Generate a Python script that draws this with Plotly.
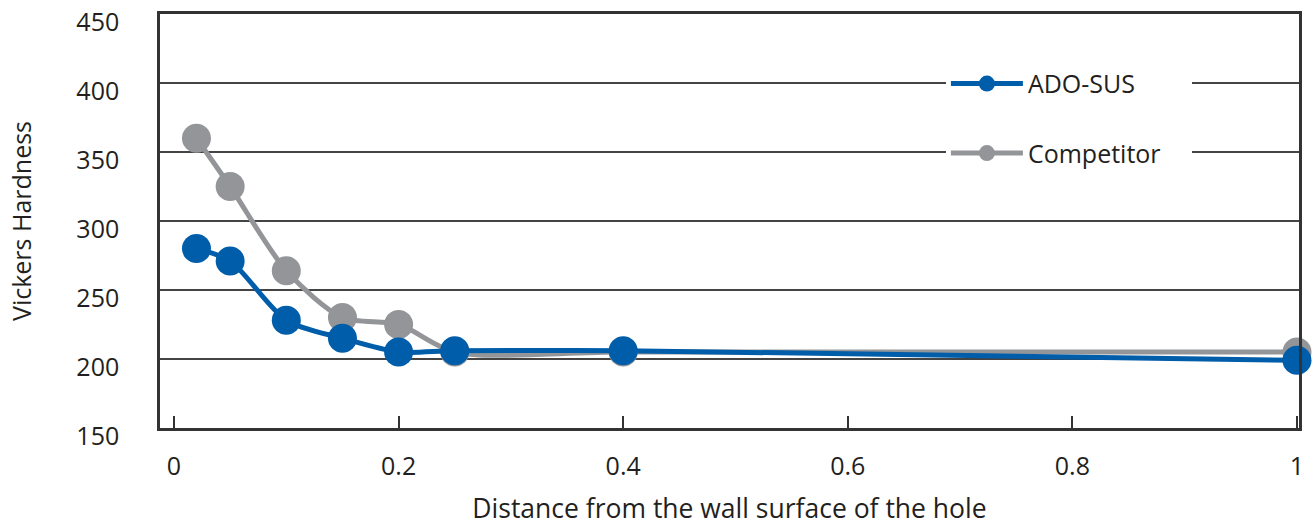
import plotly.graph_objects as go

distance = [0.02, 0.05, 0.10, 0.15, 0.20, 0.25, 0.40, 1.00]
ado_sus = [280, 271, 228, 215, 205, 206, 206, 199]
competitor = [360, 325, 264, 230, 225, 205, 205, 205]

y_ticks = [150, 200, 250, 300, 350, 400, 450]
x_ticks = [0, 0.2, 0.4, 0.6, 0.8, 1]
x_tick_labels = ["0", "0.2", "0.4", "0.6", "0.8", "1"]

BLUE = "#005DAA"
GRAY = "#939598"
DARK = "#333333"
TEXT = "#231F20"
FONT = "Open Sans"
PAD = "\u00a0\u00a0\u00a0\u00a0"

fig = go.Figure()
fig.add_trace(go.Scatter(
    x=distance, y=competitor, name="Competitor" + PAD, mode="lines+markers",
    line=dict(color=GRAY, width=5, shape="spline", smoothing=0.8),
    marker=dict(color=GRAY, size=29),
    cliponaxis=False, legendgroup="b", legendrank=2,
))
fig.add_trace(go.Scatter(
    x=distance, y=ado_sus, name="ADO-SUS" + PAD, mode="lines+markers",
    line=dict(color=BLUE, width=5, shape="spline", smoothing=0.8),
    marker=dict(color=BLUE, size=29),
    cliponaxis=False, legendgroup="a", legendrank=1,
))

fig.update_layout(
    width=1314, height=526,
    margin=dict(l=160, r=15, t=14, b=98),
    paper_bgcolor="white", plot_bgcolor="white",
    font=dict(family=FONT, size=25, color=TEXT),
    showlegend=True,
    legend=dict(
        x=0.69, y=0.887, xanchor="left", yanchor="top",
        bgcolor="white", borderwidth=0,
        traceorder="grouped", tracegroupgap=34,
        itemwidth=72,
        font=dict(family=FONT, size=25, color=TEXT),
    ),
)
fig.update_xaxes(
    range=[-0.01247, 1.0018],
    tickvals=x_ticks, ticktext=x_tick_labels,
    ticks="inside", ticklen=12, tickwidth=1.5, tickcolor=DARK,
    showline=True, linecolor=DARK, linewidth=2.5, mirror=True,
    showgrid=False, zeroline=False, automargin=False,
    ticklabelstandoff=14,
    title=dict(text="Distance from the wall surface of the hole", standoff=22,
               font=dict(size=26.5)),
    tickfont=dict(size=25),
)
fig.update_yaxes(
    range=[149.9, 450.1],
    tickvals=y_ticks,
    ticks="", showline=True, linecolor=DARK, linewidth=2.5, mirror=True,
    showgrid=True, gridcolor="#444444", gridwidth=1.5, zeroline=False,
    automargin=False,
    ticklabelstandoff=33, ticklabelshift=8,
    title=dict(text="Vickers Hardness", standoff=38, font=dict(size=25)),
    tickfont=dict(size=25),
)

fig.write_html("out.html", config={"displayModeBar": False},
               post_script="document.body.style.margin='0';")
